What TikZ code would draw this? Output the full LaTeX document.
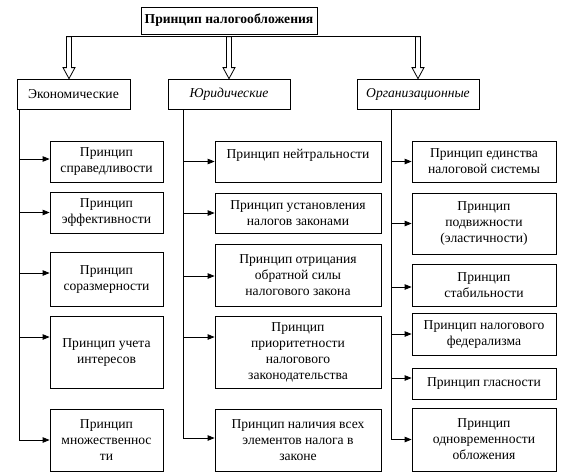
\documentclass[tikz,border=0pt]{standalone}
\usepackage{fontspec}
\setmainfont{Liberation Serif}
\usetikzlibrary{arrows.meta}
\begin{document}
\begin{tikzpicture}[x=1pt, y=-1pt, line width=0.8pt,
    box/.style = {draw, align=center, inner sep=0pt, font=\fontsize{13.6}{16}\selectfont},
    pin/.style = {-{Triangle[length=7pt,width=5.5pt]}},
    hollow/.style = {draw, fill=white}]
  \useasboundingbox (0,0) rectangle (573,475);
  \node[box, minimum width=176pt, minimum height=27pt, font=\fontsize{13.6}{16}\selectfont\bfseries] (top) at (229,20.5) {Принцип налогообложения};
  % groups
  \node[box, minimum width=113pt, minimum height=30pt] (eco) at (73.5,94) {Экономические};
  \node[box, minimum width=122pt, minimum height=30pt] (jur) at (229,94) {\itshape Юридические};
  \node[box, minimum width=122pt, minimum height=30pt] (org) at (418,94) {\itshape Организационные};
  % left column
  \node[box, minimum width=113pt, minimum height=41pt] (e1) at (106.5,161.5) {Принцип\\справедливости};
  \node[box, minimum width=113pt, minimum height=41pt] (e2) at (106.5,212.5) {Принцип\\эффективности};
  \node[box, minimum width=113pt, minimum height=54pt] (e3) at (106.5,279) {Принцип\\соразмерности};
  \node[box, minimum width=113pt, minimum height=72pt] (e4) at (106.5,352) {Принцип учета\\интересов};
  \node[box, minimum width=113pt, minimum height=62pt] (e5) at (106.5,440) {Принцип\\множественнос\\ти};
  % middle column
  \node[box, minimum width=166pt, minimum height=41pt] (j1) at (298,161.5) {Принцип нейтральности\\~};
  \node[box, minimum width=166pt, minimum height=40pt] (j2) at (298,213) {Принцип установления\\налогов законами};
  \node[box, minimum width=166pt, minimum height=62pt] (j3) at (298,275) {Принцип отрицания\\обратной силы\\налогового закона};
  \node[box, minimum width=166pt, minimum height=72pt] (j4) at (298,352) {Принцип\\приоритетности\\налогового\\законодательства};
  \node[box, minimum width=166pt, minimum height=62pt] (j5) at (298,440) {Принцип наличия всех\\элементов налога в\\законе};
  % right column
  \node[box, minimum width=144pt, minimum height=41pt] (o1) at (484,161.5) {Принцип единства\\налоговой системы};
  \node[box, minimum width=144pt, minimum height=61pt] (o2) at (484,223.5) {Принцип\\подвижности\\(эластичности)};
  \node[box, minimum width=144pt, minimum height=42pt] (o3) at (484,285) {Принцип\\стабильности};
  \node[box, minimum width=144pt, minimum height=42pt] (o4) at (484,334) {Принцип налогового\\федерализма};
  \node[box, minimum width=144pt, minimum height=31pt] (o5) at (484,383.5) {Принцип гласности};
  \node[box, minimum width=144pt, minimum height=63pt] (o6) at (484,439.5) {Принцип\\одновременности\\обложения};

  % hollow arrows
  \coordinate (ha) at ([xshift=-4.5pt]eco.north);
  \coordinate (hj) at (jur.north);
  \coordinate (ho) at (org.north);
  \draw ([shift={(2.5,-42)}]ha) -- ([shift={(-2.5,-42)}]ho);
  \foreach \c in {ha,hj,ho}
    \draw[hollow] (\c) -- +(-6,-11) -- +(-2.5,-11) -- +(-2.5,-42) -- +(2.5,-42) -- +(2.5,-11) -- +(6,-11) -- cycle;

  % trunks
  \coordinate (te) at ([xshift=3pt]eco.south west);
  \coordinate (tj) at ([xshift=16pt]jur.south west);
  \coordinate (to) at ([xshift=35pt]org.south west);
  \draw[pin] (te) |- (e5);
  \draw[pin] (tj) |- ([yshift=2pt]j5.west);
  \draw[pin] (to) |- (o6);
  \foreach \n/\s in {e1/2.5,e2/0,e3/6,e4/15}{
    \coordinate (p) at ([yshift=\s pt]\n.west);
    \draw[pin] (te |- p) -- (p);
  }
  \foreach \n/\s in {j1/0,j2/0,j3/-1,j4/15}{
    \coordinate (p) at ([yshift=\s pt]\n.west);
    \draw[pin] (tj |- p) -- (p);
  }
  \foreach \n/\s in {o1/0,o2/0,o3/-2,o4/0,o5/5.5}{
    \coordinate (p) at ([yshift=\s pt]\n.west);
    \draw[pin] (to |- p) -- (p);
  }
\end{tikzpicture}
\end{document}
